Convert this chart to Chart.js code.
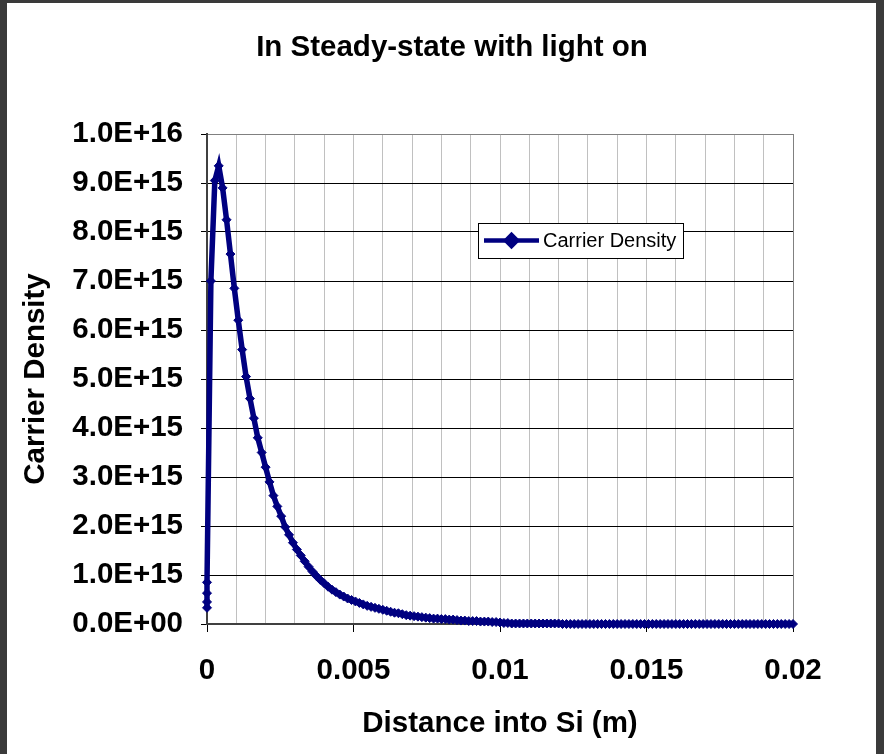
<!DOCTYPE html>
<html>
<head>
<meta charset="utf-8">
<title>In Steady-state with light on</title>
<script src="https://cdn.jsdelivr.net/npm/chart.js@4.4.1/dist/chart.umd.min.js"></script>
<style>
  html, body { margin: 0; padding: 0; background: #3a3a3a; }
  body { width: 884px; height: 754px; position: relative; overflow: hidden; }
  #frame {
    position: absolute; left: 7px; top: 3px;
    width: 869px; height: 751px; background: #ffffff;
  }
</style>
</head>
<body>
<div id="frame"><canvas id="chart" width="869" height="751"></canvas></div>
<script>
// ---------------------------------------------------------------------------
// Data
// ---------------------------------------------------------------------------

const CHART_TITLE = 'In Steady-state with light on';
const X_TITLE = 'Distance into Si (m)';
const Y_TITLE = 'Carrier Density';
const SERIES_LABEL = 'Carrier Density';

// Distance into Si (m)
const distance = [
  0, 0, 0, 0,
  0.000133, 0.000267, 0.0004, 0.000533, 0.000667, 0.0008, 0.000933, 0.001067, 0.0012, 0.001333,
  0.001467, 0.0016, 0.001733, 0.001867, 0.002, 0.002133, 0.002267, 0.0024, 0.002533, 0.002667,
  0.0028, 0.002933, 0.003067, 0.0032, 0.003333, 0.003467, 0.0036, 0.003733, 0.003867, 0.004,
  0.004133, 0.004267, 0.0044, 0.004533, 0.004667, 0.0048, 0.004933, 0.005067, 0.0052, 0.005333,
  0.005467, 0.0056, 0.005733, 0.005867, 0.006, 0.006133, 0.006267, 0.0064, 0.006533, 0.006667,
  0.0068, 0.006933, 0.007067, 0.0072, 0.007333, 0.007467, 0.0076, 0.007733, 0.007867, 0.008,
  0.008133, 0.008267, 0.0084, 0.008533, 0.008667, 0.0088, 0.008933, 0.009067, 0.0092, 0.009333,
  0.009467, 0.0096, 0.009733, 0.009867, 0.01, 0.010133, 0.010267, 0.0104, 0.010533, 0.010667,
  0.0108, 0.010933, 0.011067, 0.0112, 0.011333, 0.011467, 0.0116, 0.011733, 0.011867, 0.012,
  0.012133, 0.012267, 0.0124, 0.012533, 0.012667, 0.0128, 0.012933, 0.013067, 0.0132, 0.013333,
  0.013467, 0.0136, 0.013733, 0.013867, 0.014, 0.014133, 0.014267, 0.0144, 0.014533, 0.014667,
  0.0148, 0.014933, 0.015067, 0.0152, 0.015333, 0.015467, 0.0156, 0.015733, 0.015867, 0.016,
  0.016133, 0.016267, 0.0164, 0.016533, 0.016667, 0.0168, 0.016933, 0.017067, 0.0172, 0.017333,
  0.017467, 0.0176, 0.017733, 0.017867, 0.018, 0.018133, 0.018267, 0.0184, 0.018533, 0.018667,
  0.0188, 0.018933, 0.019067, 0.0192, 0.019333, 0.019467, 0.0196, 0.019733, 0.019867, 0.02,
];

// Carrier density, in units of 1E+15
const densityE15 = [
  0.33, 0.45, 0.63, 0.85,
  7.0, 9.05, 9.35, 8.9, 8.25, 7.55, 6.85, 6.2, 5.6, 5.05,
  4.6, 4.2, 3.8, 3.5, 3.2, 2.9, 2.62, 2.4, 2.2, 1.98,
  1.82, 1.66, 1.52, 1.40, 1.28, 1.17, 1.07, 0.98, 0.90, 0.83,
  0.76, 0.70, 0.65, 0.60, 0.56, 0.52, 0.49, 0.46, 0.43, 0.40,
  0.37, 0.35, 0.33, 0.31, 0.29, 0.27, 0.25, 0.23, 0.22, 0.20,
  0.18, 0.17, 0.16, 0.15, 0.14, 0.13, 0.12, 0.11, 0.11, 0.10,
  0.10, 0.09, 0.09, 0.08, 0.07, 0.07, 0.06, 0.06, 0.06, 0.05,
  0.05, 0.05, 0.04, 0.04, 0.03, 0.02, 0.02, 0.01, 0.01, 0.01,
  0.01, 0.01, 0.01, 0.01, 0.01, 0.01, 0.01, 0.01, 0.01, 0.01,
  0, 0, 0, 0, 0, 0, 0, 0, 0, 0,
  0, 0, 0, 0, 0, 0, 0, 0, 0, 0,
  0, 0, 0, 0, 0, 0, 0, 0, 0, 0,
  0, 0, 0, 0, 0, 0, 0, 0, 0, 0,
  0, 0, 0, 0, 0, 0, 0, 0, 0, 0,
  0, 0, 0, 0, 0, 0, 0, 0, 0, 0,
];

// Axis ranges / tick steps
const X_MIN = 0, X_MAX = 0.02, X_GRID_STEP = 0.001, X_LABEL_STEP = 0.005;
const Y_MIN = 0, Y_MAX = 1e16, Y_STEP = 1e15;

// ---------------------------------------------------------------------------
// Styling
// ---------------------------------------------------------------------------
const FONT_FAMILY = "'Liberation Sans', Arial, sans-serif";
const FONT_SIZE = 29.5;
const NAVY = '#000080';

const points = distance.map((x, i) => ({ x, y: densityE15[i] * 1e15 }));

function formatSci(v) {
  if (Math.abs(v) < 1) return '0.0E+00';
  const exp = Math.floor(Math.log10(v) + 1e-9);
  const mant = (v / Math.pow(10, exp)).toFixed(1);
  return `${mant}E+${String(exp).padStart(2, '0')}`;
}

function isLabelTick(v) {
  const r = v / X_LABEL_STEP;
  return Math.abs(r - Math.round(r)) < 1e-6;
}

// Title centred over the whole picture (the built-in one centres on the layout box)
const pageTitle = {
  id: 'pageTitle',
  afterDraw(chart, args, opts) {
    const ctx = chart.ctx;
    ctx.save();
    ctx.fillStyle = '#000000';
    ctx.font = `bold ${FONT_SIZE}px ${FONT_FAMILY}`;
    ctx.textAlign = 'center';
    ctx.textBaseline = 'middle';
    ctx.fillText(opts.text, opts.x, opts.y);
    ctx.restore();
  },
};

// Legend box drawn inside the plot, like the spreadsheet original
const insideLegend = {
  id: 'insideLegend',
  afterDraw(chart, args, opts) {
    const ctx = chart.ctx;
    const ds = chart.data.datasets[0];
    ctx.save();
    ctx.fillStyle = '#ffffff';
    ctx.fillRect(opts.x, opts.y, opts.w, opts.h);
    ctx.strokeStyle = '#000000';
    ctx.lineWidth = 1;
    ctx.strokeRect(opts.x + 0.5, opts.y + 0.5, opts.w, opts.h);

    const cy = opts.y + opts.h / 2;
    ctx.strokeStyle = ds.borderColor;
    ctx.lineWidth = 4.5;
    ctx.beginPath();
    ctx.moveTo(opts.x + 6, cy);
    ctx.lineTo(opts.x + 61, cy);
    ctx.stroke();
    Chart.helpers.drawPoint(ctx, { pointStyle: 'rectRot', radius: 5.5, borderWidth: 1 },
      opts.x + 33.5, cy);
    ctx.fillStyle = ds.borderColor;
    ctx.fill();

    ctx.fillStyle = '#000000';
    ctx.font = `20px ${FONT_FAMILY}`;
    ctx.textBaseline = 'middle';
    ctx.textAlign = 'left';
    ctx.fillText(ds.label, opts.x + 65, cy + 1);
    ctx.restore();
  },
};

new Chart(document.getElementById('chart'), {
  type: 'line',
  data: {
    datasets: [{
      label: SERIES_LABEL,
      data: points,
      borderColor: NAVY,
      backgroundColor: NAVY,
      borderWidth: 5.5,
      pointStyle: 'rectRot',
      pointRadius: 4.5,
      pointBorderWidth: 1,
      pointBackgroundColor: NAVY,
      pointBorderColor: NAVY,
      tension: 0,
      clip: false,
    }],
  },
  options: {
    responsive: false,
    animation: false,
    events: [],
    layout: { padding: { left: 0, right: 83, top: 131, bottom: 0 } },
    plugins: {
      legend: { display: false },
      tooltip: { enabled: false },
      title: { display: false },
      pageTitle: { text: CHART_TITLE, x: 445, y: 45 },
      insideLegend: { x: 471, y: 220, w: 205, h: 35 },
    },
    scales: {
      x: {
        type: 'linear',
        min: X_MIN,
        max: X_MAX,
        afterFit: s => { s.height = 130; },
        border: { color: '#404040', width: 2 },
        grid: {
          color: ctx => (ctx.tick && Math.abs(ctx.tick.value - X_MAX) < 1e-9) ? '#808080' : '#c0c0c0',
          lineWidth: 1,
          tickLength: 8,
          tickColor: ctx => (ctx.tick && isLabelTick(ctx.tick.value)) ? '#000000' : 'rgba(0,0,0,0)',
        },
        ticks: {
          stepSize: X_GRID_STEP,
          autoSkip: false,
          maxRotation: 0,
          color: '#000000',
          padding: 21,
          font: { family: FONT_FAMILY, size: FONT_SIZE, weight: 'bold' },
          callback: v => isLabelTick(v) ? String(parseFloat(v.toFixed(4))) : '',
        },
        title: {
          display: true,
          text: X_TITLE,
          color: '#000000',
          font: { family: FONT_FAMILY, size: FONT_SIZE, weight: 'bold' },
          padding: { top: 0, bottom: 12 },
        },
      },
      y: {
        type: 'linear',
        min: Y_MIN,
        max: Y_MAX,
        afterFit: s => { s.width = 200; },
        border: { color: '#404040', width: 2 },
        grid: {
          color: ctx => (ctx.tick && ctx.tick.value >= Y_MAX) ? '#808080' : '#000000',
          lineWidth: 1,
          tickLength: 6,
          tickColor: '#000000',
        },
        ticks: {
          stepSize: Y_STEP,
          color: '#000000',
          padding: 18,
          font: { family: FONT_FAMILY, size: FONT_SIZE, weight: 'bold' },
          callback: v => formatSci(v),
        },
        title: {
          display: true,
          text: Y_TITLE,
          color: '#000000',
          font: { family: FONT_FAMILY, size: FONT_SIZE, weight: 'bold' },
          padding: { top: 11, bottom: 0 },
        },
      },
    },
  },
  plugins: [pageTitle, insideLegend],
});
</script>
</body>
</html>
